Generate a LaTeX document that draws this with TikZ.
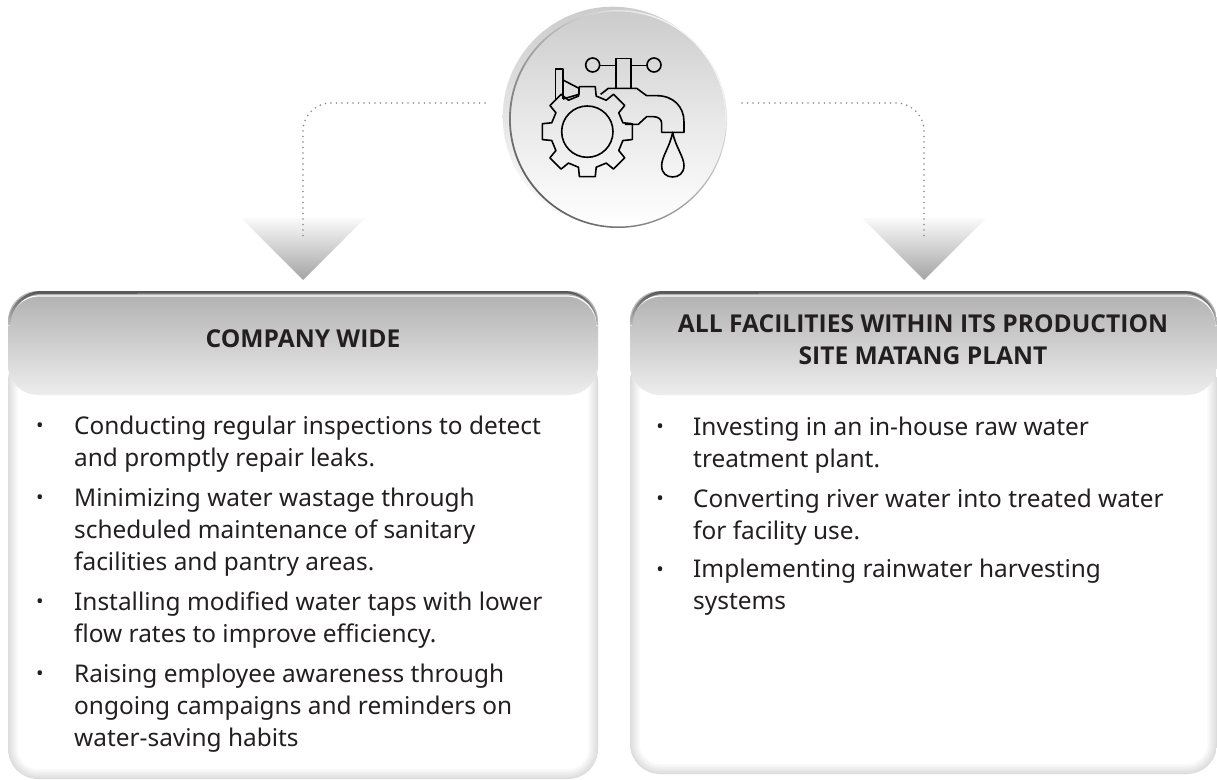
\documentclass[tikz,border=0pt]{standalone}
\usepackage{fontspec}
\setmainfont{Noto Sans}
\newfontfamily\headfont{Open Sans}
\usetikzlibrary{calc}
\definecolor{ink}{HTML}{231F20}
\tikzset{
 x=1pt,y=-1pt,
 icon/.style={draw=black,line width=1.6pt,line join=round},
 dots/.style={draw=gray!90,line width=1.8pt,line cap=round,dash pattern=on 0pt off 5.5pt},
 head/.style={font=\fontsize{24.6}{32}\selectfont\headfont\bfseries,text=ink,align=center,inner sep=0pt},
 bul/.style={font=\fontsize{24.4}{32}\selectfont,text=ink,align=left,anchor=north west,inner sep=0pt},
 bulmark/.style={font=\fontsize{20}{24}\selectfont,text=ink,anchor=center,inner sep=0pt},
}
\newcommand{\card}[5]{% x0 x1 top headbottom bottom
 \begin{scope}
  \clip[rounded corners=30pt] (#1,#3+60) rectangle (#2,#5);
  \fill[white] (#1,#3) rectangle (#2,#5);
  \foreach \w in {2,5,...,20}{
   \draw[black,opacity=0.02,line width=\w pt,rounded corners=30pt] (#1,#3+60) rectangle (#2,#5);}
 \end{scope}
 \shade[top color=black!31,bottom color=black!7,rounded corners=30pt] (#1,#3) rectangle (#2,#4);
 \draw[white,line width=1.2pt] (#1+1,#3+35) arc[start angle=180,end angle=270,radius=30] -- (#2-31,#3+5) arc[start angle=270,end angle=360,radius=30];
 \shade[top color=black!66,bottom color=black!25] (#1,#3+34) arc[start angle=180,end angle=270,radius=34] -- (#2-34,#3) arc[start angle=270,end angle=360,radius=34] -- (#2-1.5,#3+34) arc[start angle=360,end angle=270,radius=31.5] -- (#1+34,#3+2.8) arc[start angle=270,end angle=180,radius=31.5] -- cycle;
}
\begin{document}
\begin{tikzpicture}
\useasboundingbox (0,0) rectangle (1217,779);
\fill[white] (0,0) rectangle (1217,779);
% cards
\card{8}{598}{291}{395}{779}
\card{630}{1217}{291}{395}{774}
% triangles
\shade[top color=black!2,bottom color=black!36] (241,218) -- (365,218) -- (303,280) -- cycle;
\shade[top color=black!2,bottom color=black!36] (862,218) -- (986,218) -- (924,280) -- cycle;
% medallion
\shade[top color=black!20,bottom color=white] (612.7,116.7) circle[radius=110];
\shade[top color=black!20,bottom color=white,middle color=black!9] (618,119) circle[radius=107.5];
\shade[even odd rule,top color=black!62,bottom color=black!3,shading angle=135] (618,119) circle[radius=109] (618.3,119) circle[radius=107.5];
\node[circle,minimum size=218pt,inner sep=0pt] (hub) at (614,117) {};
% connectors
\coordinate (la) at (303,236);
\coordinate (ra) at (924,236);
\coordinate (ls) at (485,103);
\coordinate (rs) at (742,103);
\draw[dots] (ls) -- (331,103) arc[start angle=270,end angle=180,radius=28] -- (la);
\draw[dots] (rs) -- (896,103) arc[start angle=270,end angle=360,radius=28] -- (ra);
% icon
\begin{scope}[shift={(480,0)},x=0.3333pt,y=-0.3333pt]
 \draw[icon] (322,395) circle[radius=77];
 \draw[icon] ($(322,395)+({137*cos(100)},{-137*sin(100)})$)
  \foreach \a in {90,45,0,-45,-90,-135,180,135}{
   -- ($(322,395)+({137*cos(\a+10)},{-137*sin(\a+10)})$) -- ($(322,395)+({137*cos(\a-10)},{-137*sin(\a-10)})$) -- ($(322,395)+({110*cos(\a-14)},{-110*sin(\a-14)})$) -- ($(322,395)+({110*cos(\a-31)},{-110*sin(\a-31)})$)
  } -- cycle;
 \draw[icon] (362,283) -- (385,265) -- (470,265) -- (500,287) -- (530,287) .. controls (580,287) and (612,320) .. (612,365) -- (612,397) -- (545,397) -- (545,370) .. controls (545,358) and (535,350) .. (520,350) -- (500,350) -- (475,373) -- (435,373);
 \draw[icon] (408,175) rectangle (453,265);
 \draw[icon] (360,197) -- (408,197) (453,197) -- (500,197);
 \draw[icon] (338,195) circle[radius=21] (522,195) circle[radius=21];
 \draw[icon] (578,397) .. controls (570,440) and (545,470) .. (545,497) .. controls (545,520) and (560,531) .. (578,531) .. controls (596,531) and (612,520) .. (612,497) .. controls (612,470) and (586,440) .. (578,397) -- cycle;
 \draw[icon] (226,297) -- (226,207) -- (249,207) -- (249,297);
 \draw[icon] (249,240) -- (297,265) -- (297,283) -- (249,297);
\end{scope}
% headings
\node[head] (h1) at (303,339) {COMPANY WIDE};
\node[head] (h2) at (923,340) {ALL FACILITIES WITHIN ITS PRODUCTION\\SITE MATANG PLANT};
% left text
\foreach \y/\n in {428/m1,500/m2,604/m3,676/m4}{\node[bulmark] (\n) at (40,\y) {•};}
\node[bul] (a1) at (74,416) {Conducting regular inspections to detect\\and promptly repair leaks.};
\node[bul] (a2) at (74,488) {Minimizing water wastage through\\scheduled maintenance of sanitary\\facilities and pantry areas.};
\node[bul] (a3) at (74,592) {Installing modified water taps with lower\\flow rates to improve efficiency.};
\node[bul] (a4) at (74,664) {Raising employee awareness through\\ongoing campaigns and reminders on\\water-saving habits};
% right text
\foreach \y/\n in {429/n1,501/n2,572/n3}{\node[bulmark] (\n) at (660,\y) {•};}
\node[bul] (b1) at (693,417) {Investing in an in-house raw water\\treatment plant.};
\node[bul] (b2) at (693,489) {Converting river water into treated water\\for facility use.};
\node[bul] (b3) at (693,559) {Implementing rainwater harvesting\\systems};
\end{tikzpicture}
\end{document}
